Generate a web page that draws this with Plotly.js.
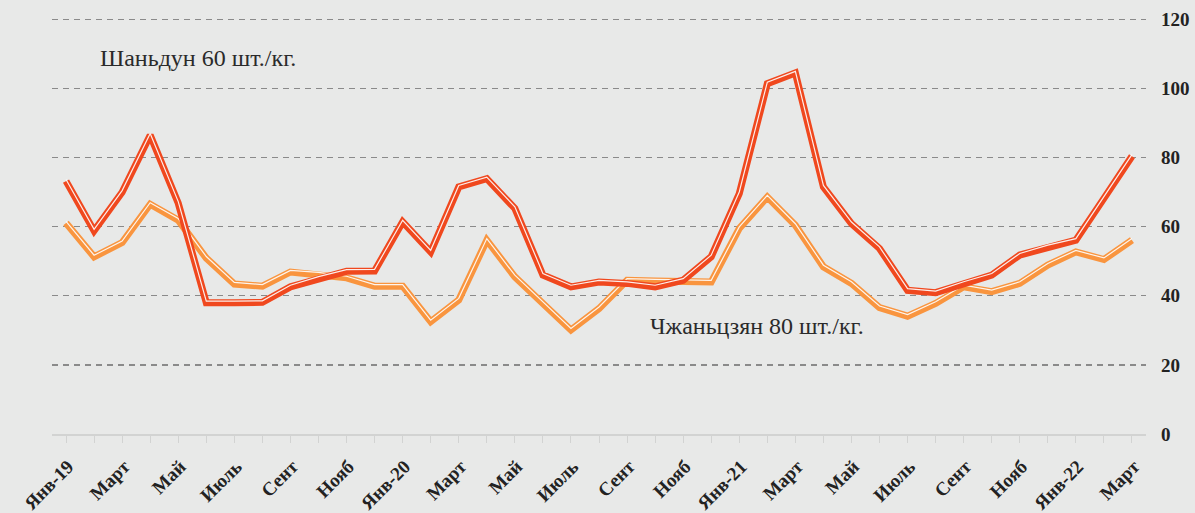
<!DOCTYPE html>
<html>
<head>
<meta charset="utf-8">
<script src="https://cdn.plot.ly/plotly-3.0.1.min.js"></script>
<style>
html,body{margin:0;padding:0;background:#e8e9e8;}
#chart{width:1195px;height:513px;}
</style>
</head>
<body>
<div id="chart"></div>
<script>
const months = ["Янв-19","Фев","Март","Апр","Май","Июнь","Июль","Авг","Сент","Окт","Нояб","Дек",
  "Янв-20","Фев","Март","Апр","Май","Июнь","Июль","Авг","Сент","Окт","Нояб","Дек",
  "Янв-21","Фев","Март","Апр","Май","Июнь","Июль","Авг","Сент","Окт","Нояб","Дек",
  "Янв-22","Фев","Март"];
const tickLabels = ["Янв-19","","Март","","Май","","Июль","","Сент","","Нояб","",
  "Янв-20","","Март","","Май","","Июль","","Сент","","Нояб","",
  "Янв-21","","Март","","Май","","Июль","","Сент","","Нояб","",
  "Янв-22","","Март"];
const shandong = [73.2,58.8,70.0,86.5,66.8,38.0,38.0,38.1,42.6,45.1,47.1,47.2,
  61.4,52.7,71.5,73.9,65.3,46.0,42.6,44.0,43.6,42.6,44.5,51.3,
  69.6,101.4,104.5,71.5,60.9,53.7,41.6,40.9,43.6,46.0,51.8,54.2,
  56.1,68.2,80.4];
const zhanjiang = [61.1,51.3,55.4,66.5,61.9,50.9,43.4,42.8,46.9,46.3,45.2,42.8,
  42.8,32.5,38.8,56.1,45.5,37.8,30.1,36.3,44.5,44.3,44.2,44.0,
  59.5,68.6,60.4,48.4,43.6,36.6,34.1,37.8,42.6,41.2,43.6,48.9,
  52.7,50.5,56.1];
const seriesNames = ["Шаньдун 60 шт./кг.","Чжаньцзян 80 шт./кг."];
const yTicks = [0,20,40,60,80,100,120];
const idx = months.map((m,i)=>i);

const RED = "#f0481e", ORANGE = "#f9953f";
const SERIF = "'Liberation Serif', 'Times New Roman', serif";
function traces(y, color, name){
  return [
    {x: idx, y: y, type:"scatter", mode:"lines", name:name, hoverinfo:"skip",
     line:{color:color, width:7, shape:"linear"}, showlegend:false},
    {x: idx, y: y, type:"scatter", mode:"lines", name:name+" hl", hoverinfo:"skip",
     line:{color:"#ffffff", width:1.2}, opacity:0.9, showlegend:false}
  ];
}
const data = [...traces(zhanjiang, ORANGE, seriesNames[1]), ...traces(shandong, RED, seriesNames[0])];

const layout = {
  width:1195, height:513,
  margin:{l:52, r:49, t:15.5, b:79},
  paper_bgcolor:"#e8e9e8", plot_bgcolor:"#e8e9e8",
  showlegend:false,
  xaxis:{
    range:[-0.5,38.5], tickmode:"array", tickvals:idx, ticktext:tickLabels,
    tickangle:-45, showgrid:false, zeroline:false,
    showline:true, linecolor:"#d2d3d2", linewidth:2,
    ticks:"outside", ticklen:7, tickcolor:"#d2d3d2", tickwidth:1,
    ticklabelstandoff:5, ticklabelshift:2,
    tickfont:{family:SERIF, size:19, color:"#222222", weight:"bold"},
    fixedrange:true
  },
  yaxis:{
    range:[0,121], side:"right", tickvals:yTicks,
    showgrid:true, gridcolor:"#8a8a8a", gridwidth:1.2, griddash:"6px,5px",
    zeroline:false, showline:false, ticks:"", ticklabelstandoff:14,
    tickfont:{family:SERIF, size:19, color:"#222222", weight:"bold"},
    fixedrange:true
  },
  annotations:[
    {text:seriesNames[0], xref:"paper", yref:"paper", x:(98-52)/1094, y:(437.5-61)/418.5,
     xanchor:"left", yanchor:"middle", showarrow:false,
     font:{family:SERIF, size:24, color:"#2a2a2a"}},
    {text:seriesNames[1], xref:"paper", yref:"paper", x:(648-52)/1094, y:(437.5-329)/418.5,
     xanchor:"left", yanchor:"middle", showarrow:false,
     font:{family:SERIF, size:24, color:"#2a2a2a"}}
  ]
};

Plotly.newPlot("chart", data, layout, {displayModeBar:false, staticPlot:true}).then(gd=>{
  const tr = gd.querySelectorAll(".scatterlayer .trace");
  [1,3].forEach(i=>{
    const p = tr[i] && tr[i].querySelector("path.js-line");
    if(p) p.setAttribute("transform","translate(0,-1.6)");
  });
});
</script>
</body>
</html>
